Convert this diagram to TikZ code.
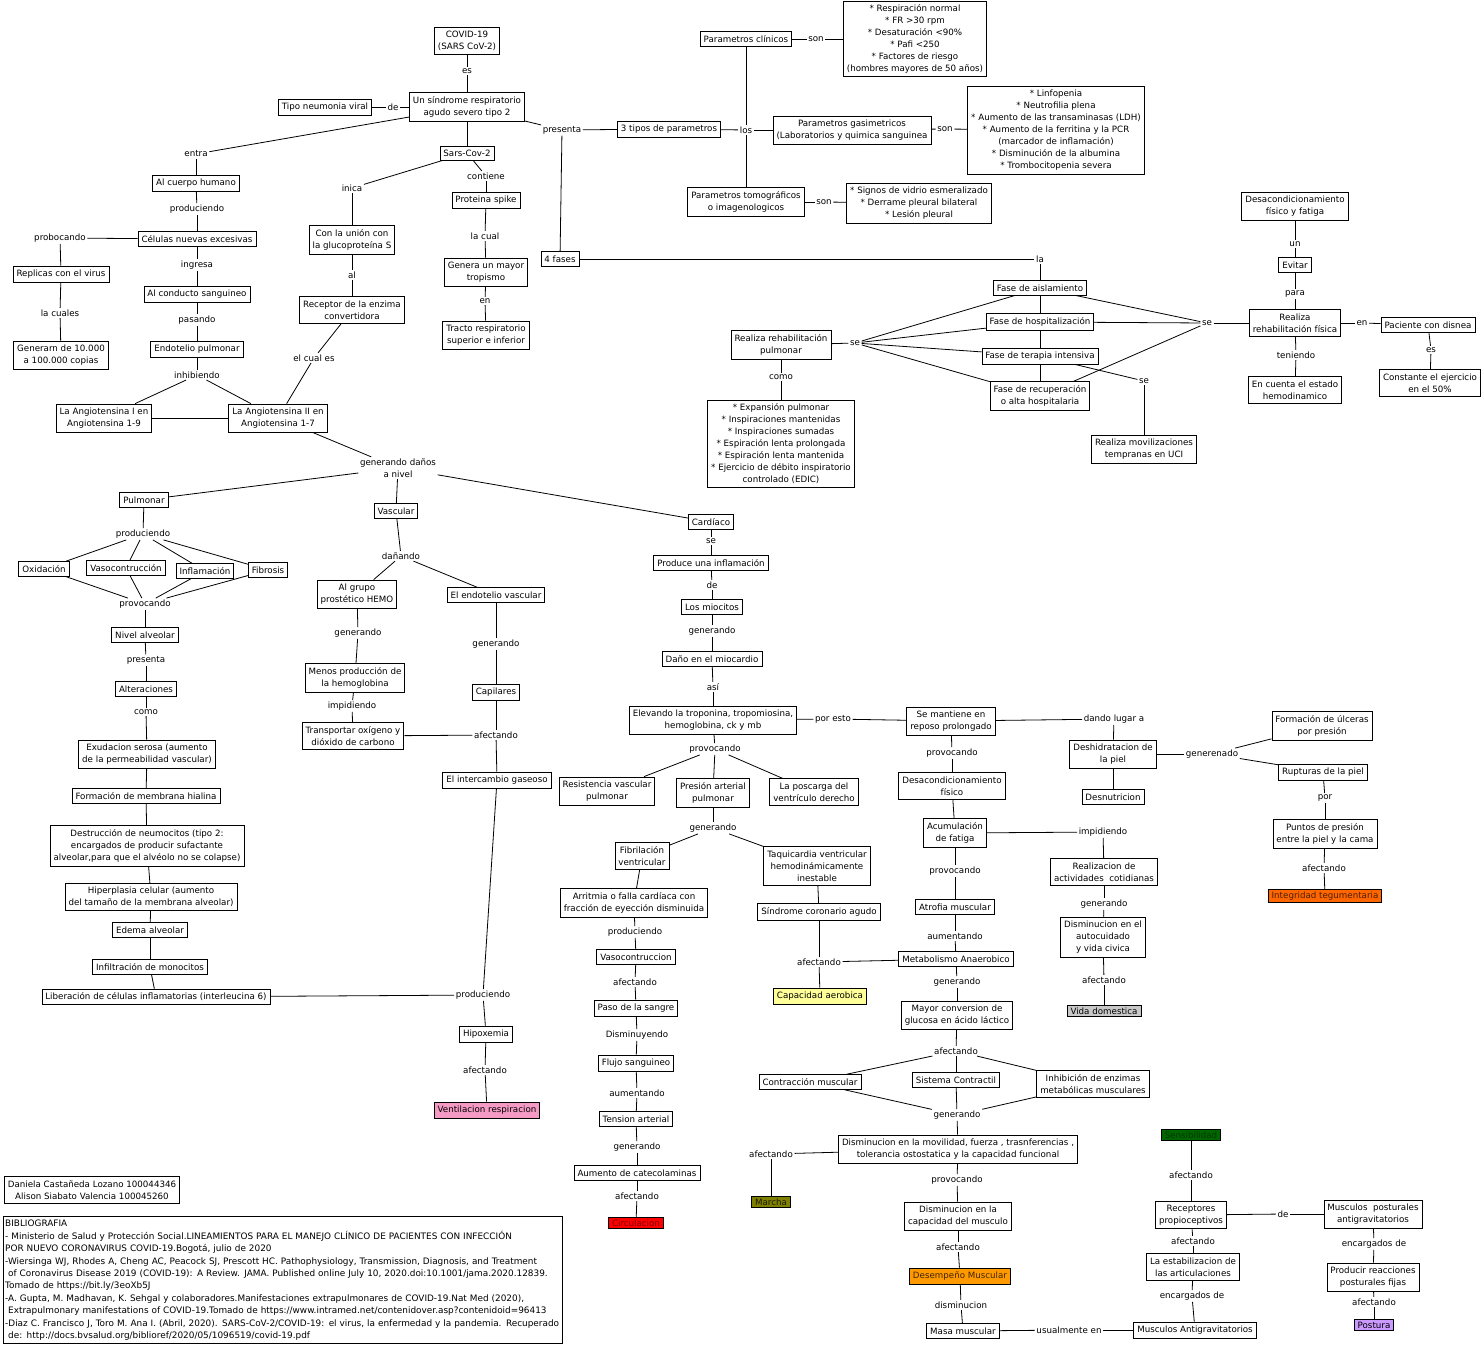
\documentclass[tikz,border=0pt]{standalone}
\usepackage{fontspec}
\setmainfont{DejaVu Sans}
\newcommand\mapfont{\fontsize{8.7}{12}\selectfont}
\definecolor{cpink}{HTML}{F59AC4}
\definecolor{cred}{HTML}{FF0000}
\definecolor{cdred}{HTML}{7A0000}
\definecolor{colive}{HTML}{808000}
\definecolor{cyel}{HTML}{FFFF99}
\definecolor{corange}{HTML}{FF9900}
\definecolor{corred}{HTML}{FF6600}
\definecolor{cgrey}{HTML}{C8C8C8}
\definecolor{cgreen}{HTML}{006600}
\definecolor{cviolet}{HTML}{CC99FF}
\begin{document}
\begin{tikzpicture}[x=1pt,y=-1pt,
  box/.style={draw, line width=0.8pt, fill=white, align=center, inner xsep=3.5pt, inner ysep=3.8pt, font=\mapfont},
  lab/.style={inner sep=1.5pt, align=center, font=\mapfont},
  edge/.style={line width=0.8pt}]
\useasboundingbox (0,0) rectangle (1484,1345);

% ---- top
\node[box] (covid) at (467,41) {COVID-19\\(SARS CoV-2)};
\node[lab] (es1) at (467,71) {es};
\node[box] (sindrome) at (467,107) {Un síndrome respiratorio\\agudo severo tipo 2};
\node[box] (tipo) at (325,107) {Tipo neumonia viral};
\node[lab] (de1) at (393,107) {de};
\node[lab] (presenta) at (562,130) {presenta};
\node[box] (tres) at (669,129) {3 tipos de parametros};
\node[lab] (los) at (746,130) {los};
\node[box] (clinicos) at (746,39) {Parametros clínicos};
\node[lab] (son1) at (816,39) {son};
\node[box, inner ysep=3pt] (clinlist) at (915,39) {* Respiración normal\\* FR >30 rpm\\* Desaturación <90\%\\* Pafi <250\\* Factores de riesgo\\(hombres mayores de 50 años)};
\node[box] (gasi) at (852,130) {Parametros gasimetricos\\(Laboratorios y quimica sanguinea};
\node[lab] (son2) at (945,129) {son};
\node[box] (gaslist) at (1056,130) {* Linfopenia\\* Neutrofilia plena\\* Aumento de las transaminasas (LDH)\\* Aumento de la ferritina y la PCR\\(marcador de inflamación)\\* Disminución de la albumina\\* Trombocitopenia severa};
\node[box] (tomo) at (746,202) {Parametros tomográficos\\o imagenologicos};
\node[lab] (son3) at (824,202) {son};
\node[box] (tomolist) at (919,203) {* Signos de vidrio esmeralizado\\* Derrame pleural bilateral\\* Lesión pleural};
\node[box] (sars) at (467,153) {Sars-Cov-2};
\node[lab] (inica) at (352,188) {inica};
\node[lab] (contiene) at (486,176) {contiene};
\node[box] (proteina) at (486,200) {Proteina spike};
\node[lab] (lacual) at (485,236) {la cual};
\node[box] (genera) at (486,272) {Genera un mayor\\tropismo};
\node[lab] (en1) at (485,301) {en};
\node[box] (tracto) at (486,335) {Tracto respiratorio\\superior e inferior};
\node[box] (cuatro) at (560,259) {4 fases};
\node[box] (union) at (352,240) {Con la unión con\\la glucoproteína S};
\node[lab] (al) at (352,275) {al};
\node[box] (receptor) at (352,310) {Receptor de la enzima\\convertidora};
\node[lab] (elcual) at (314,358) {el cual es};
% ---- left
\node[lab] (entra) at (196,154) {entra};
\node[box] (cuerpo) at (196,183) {Al cuerpo humano};
\node[lab] (prod1) at (197,209) {produciendo};
\node[box] (celulas) at (197,239) {Células nuevas excesivas};
\node[lab] (probocando) at (60,238) {probocando};
\node[box] (replicas) at (61,274) {Replicas con el virus};
\node[lab] (lascuales) at (60,313) {la cuales};
\node[box] (generarn) at (61,355) {Generarn de 10.000\\a 100.000 copias};
\node[lab] (ingresa) at (197,265) {ingresa};
\node[box] (conducto) at (197,294) {Al conducto sanguineo};
\node[lab] (pasando) at (197,320) {pasando};
\node[box] (endotelio) at (197,349) {Endotelio pulmonar};
\node[lab] (inhibiendo) at (197,375) {inhibiendo};
\node[box] (ang1) at (104,418) {La Angiotensina I en\\Angiotensina 1-9};
\node[box] (ang2) at (278,418) {La Angiotensina II en\\Angiotensina 1-7};
\node[lab] (gendanos) at (398,468) {generando daños\\a nivel};
% ---- pulmonar
\node[box] (pulmonar) at (144,500) {Pulmonar};
\node[lab] (prod2) at (143,534) {produciendo};
\node[box] (oxidacion) at (44,569) {Oxidación};
\node[box] (vasoc) at (126,568) {Vasocontrucción};
\node[box] (inflam) at (205,571) {Inflamación};
\node[box] (fibrosis) at (268,570) {Fibrosis};
\node[lab] (provoc1) at (145,604) {provocando};
\node[box] (nivel) at (145,635) {Nivel alveolar};
\node[lab] (presenta2) at (146,660) {presenta};
\node[box] (alteraciones) at (146,689) {Alteraciones};
\node[lab] (como1) at (146,712) {como};
\node[box] (exudacion) at (147,754) {Exudacion serosa (aumento\\de la permeabilidad vascular)};
\node[box] (formacion) at (146,796) {Formación de membrana hialina};
\node[box] (destruccion) at (147,846) {Destrucción de neumocitos (tipo 2:\\encargados de producir sufactante\\alveolar,para que el alvéolo no se colapse)};
\node[box] (hiperplasia) at (151,897) {Hiperplasia celular (aumento\\del tamaño de la membrana alveolar)};
\node[box] (edema) at (150,930) {Edema alveolar};
\node[box] (infiltracion) at (150,967) {Infiltración de monocitos};
\node[box] (liberacion) at (156,997) {Liberación de células inflamatorias (interleucina 6)};
\node[lab] (prod3) at (483,995) {produciendo};
% ---- vascular
\node[box] (vascular) at (396,511) {Vascular};
\node[lab] (danando) at (401,556) {dañando};
\node[box] (hemo) at (357,594) {Al grupo\\prostético HEMO};
\node[lab] (gen2) at (358,633) {generando};
\node[box] (menos) at (355,678) {Menos producción de\\la hemoglobina};
\node[lab] (impid) at (352,706) {impidiendo};
\node[box] (transportar) at (353,736) {Transportar oxígeno y\\dióxido de carbono};
\node[box] (endvasc) at (496,595) {El endotelio vascular};
\node[lab] (gen3) at (496,644) {generando};
\node[box] (capilares) at (496,692) {Capilares};
\node[lab] (afec1) at (496,735) {afectando};
\node[box] (intercambio) at (497,780) {El intercambio gaseoso};
\node[box] (hipoxemia) at (486,1034) {Hipoxemia};
\node[lab] (afec2) at (485,1070) {afectando};
\node[box, fill=cpink] (ventilacion) at (487,1110) {Ventilacion respiracion};
% ---- cardiaco
\node[box] (cardiaco) at (711,522) {Cardíaco};
\node[lab] (se1) at (711,541) {se};
\node[box] (produce) at (711,563) {Produce una inflamación};
\node[lab] (de2) at (712,585) {de};
\node[box] (miocitos) at (712,607) {Los miocitos};
\node[lab] (gen4) at (712,631) {generando};
\node[box] (dano) at (712,659) {Daño en el miocardio};
\node[lab] (asi) at (713,687) {así};
\node[box] (elevando) at (713,720) {Elevando la troponina, tropomiosina,\\hemoglobina, ck y mb};
\node[lab] (porEsto) at (833,719) {por esto};
\node[lab] (provoc2) at (715,749) {provocando};
\node[box] (resistencia) at (607,791) {Resistencia vascular\\pulmonar};
\node[box] (presion) at (713,793) {Presión arterial\\pulmonar};
\node[box] (poscarga) at (814,792) {La poscarga del\\ventrículo derecho};
\node[lab] (gen5) at (713,828) {generando};
\node[box] (fibrilacion) at (642,856) {Fibrilación\\ventricular};
\node[box] (taquicardia) at (817,866) {Taquicardia ventricular\\hemodinámicamente\\inestable};
\node[box] (arritmia) at (634,903) {Arritmia o falla cardíaca con\\fracción de eyección disminuida};
\node[lab] (prod4) at (635,932) {produciendo};
\node[box] (vasoc2) at (636,957) {Vasocontruccion};
\node[lab] (afec3) at (635,982) {afectando};
\node[box] (paso) at (636,1008) {Paso de la sangre};
\node[lab] (disminuyendo) at (637,1035) {Disminuyendo};
\node[box] (flujo) at (636,1063) {Flujo sanguineo};
\node[lab] (aument) at (637,1093) {aumentando};
\node[box] (tension) at (636,1119) {Tension arterial};
\node[lab] (gen6) at (637,1147) {generando};
\node[box] (catecol) at (637,1173) {Aumento de catecolaminas};
\node[lab] (afec4) at (637,1196) {afectando};
\node[box, fill=cred, text=cdred, inner ysep=2.5pt] (circulacion) at (636,1223) {Circulacion};
\node[box] (sindcor) at (819,912) {Síndrome coronario agudo};
\node[lab] (afec5) at (819,962) {afectando};
\node[box, fill=cyel] (capacidad) at (820,996) {Capacidad aerobica};
% ---- reposo chain
\node[box] (reposo) at (951,721) {Se mantiene en\\reposo prolongado};
\node[lab] (dandolugar) at (1114,719) {dando lugar a};
\node[lab] (provoc3) at (952,753) {provocando};
\node[box] (desacond) at (952,786) {Desacondicionamiento\\físico};
\node[box] (acumulacion) at (955,833) {Acumulación\\de fatiga};
\node[lab] (impid2) at (1103,832) {impidiendo};
\node[lab] (provoc4) at (955,871) {provocando};
\node[box] (atrofia) at (955,907) {Atrofia muscular};
\node[lab] (aument2) at (955,936) {aumentando};
\node[box] (metabolismo) at (956,959) {Metabolismo Anaerobico};
\node[lab] (gen7) at (957,982) {generando};
\node[box] (mayor) at (957,1015) {Mayor conversion de\\glucosa en ácido láctico};
\node[lab] (afec6) at (956,1051) {afectando};
\node[box] (contraccion) at (810,1082) {Contracción muscular};
\node[box] (sistema) at (956,1080) {Sistema Contractil};
\node[box] (inhibicion) at (1093,1084) {Inhibición de enzimas\\metabólicas musculares};
\node[lab] (gen8) at (957,1115) {generando};
\node[box] (disminucion) at (958,1149) {Disminucion en la movilidad, fuerza , trasnferencias ,\\tolerancia ostostatica y la capacidad funcional};
\node[lab] (afec7) at (771,1154) {afectando};
\node[box, fill=colive, text=black!80!colive, inner ysep=2.5pt] (marcha) at (771,1202) {Marcha};
\node[lab] (provoc5) at (957,1180) {provocando};
\node[box] (dismcap) at (958,1216) {Disminucion en la\\capacidad del musculo};
\node[lab] (afec8) at (958,1247) {afectando};
\node[box, fill=corange, text=black!75!corange] (desempeno) at (960,1276) {Desempeño Muscular};
\node[lab] (dismin2) at (961,1305) {disminucion};
\node[box] (masa) at (963,1331) {Masa muscular};
\node[lab] (usualmente) at (1069,1330) {usualmente en};
\node[box] (musculosAnti) at (1195,1330) {Musculos Antigravitatorios};
% ---- skin
\node[box] (deshidratacion) at (1113,754) {Deshidratacion de\\la piel};
\node[box] (desnutricion) at (1113,797) {Desnutricion};
\node[lab] (generenado) at (1212,754) {generenado};
\node[box] (ulceras) at (1322,726) {Formación de úlceras\\por presión};
\node[box] (rupturas) at (1323,772) {Rupturas de la piel};
\node[lab] (por) at (1325,798) {por};
\node[box] (puntos) at (1325,834) {Puntos de presión\\entre la piel y la cama};
\node[lab] (afec9) at (1324,868) {afectando};
\node[box, fill=corred, text=black!70!corred, inner ysep=2.5pt] (integridad) at (1325,896) {Integridad tegumentaria};
\node[box] (realizacion) at (1104,872) {Realizacion de\\actividades\ \ cotidianas};
\node[lab] (gen9) at (1104,904) {generando};
\node[box] (dismauto) at (1103,937) {Disminucion en el\\autocuidado\\y vida civica};
\node[lab] (afec10) at (1104,980) {afectando};
\node[box, fill=cgrey, inner ysep=2.5pt] (vida) at (1104,1011) {Vida domestica};
% ---- postura
\node[box, fill=cgreen, text=black!45!cgreen, inner ysep=2.5pt] (sensibilidad) at (1191,1135) {Sensibilidad};
\node[lab] (afec11) at (1191,1175) {afectando};
\node[box] (receptores) at (1191,1215) {Receptores\\propioceptivos};
\node[lab] (de3) at (1283,1214) {de};
\node[box] (musculosPost) at (1373,1214) {Musculos\ \ posturales\\antigravitatorios};
\node[lab] (afec12) at (1193,1241) {afectando};
\node[box] (estabilizacion) at (1193,1267) {La estabilizacion de\\las articulaciones};
\node[lab] (encarg1) at (1192,1296) {encargados de};
\node[lab] (encarg2) at (1374,1244) {encargados de};
\node[box] (producir) at (1373,1277) {Producir reacciones\\posturales fijas};
\node[lab] (afec13) at (1374,1302) {afectando};
\node[box, fill=cviolet, inner ysep=2.5pt] (postura) at (1374,1325) {Postura};
% ---- fases
\node[lab] (la) at (1040,259) {la};
\node[box] (aislamiento) at (1040,288) {Fase de aislamiento};
\node[box] (hospitalizacion) at (1040,322) {Fase de hospitalización};
\node[box] (terapia) at (1040,356) {Fase de terapia intensiva};
\node[box] (recuperacion) at (1040,396) {Fase de recuperación\\o alta hospitalaria};
\node[lab] (se2) at (855,343) {se};
\node[box] (rehabPulm) at (781,345) {Realiza rehabilitación\\pulmonar};
\node[lab] (como2) at (781,377) {como};
\node[box] (rehablist) at (781,444) {* Expansión pulmonar\\* Inspiraciones mantenidas\\* Inspiraciones sumadas\\* Espiración lenta prolongada\\* Espiración lenta mantenida\\* Ejercicio de débito inspiratorio\\controlado (EDIC)};
\node[lab] (se3) at (1207,323) {se};
\node[box] (rehabFis) at (1295,323) {Realiza\\rehabilitación física};
\node[lab] (para) at (1295,294) {para};
\node[box] (evitar) at (1295,265) {Evitar};
\node[lab] (un) at (1295,244) {un};
\node[box] (desacFat) at (1295,206) {Desacondicionamiento\\físico y fatiga};
\node[lab] (en2) at (1362,323) {en};
\node[box] (disnea) at (1428,325) {Paciente con disnea};
\node[lab] (es2) at (1431,350) {es};
\node[box] (constante) at (1430,383) {Constante el ejercicio\\en el 50\%};
\node[lab] (teniendo) at (1296,355) {teniendo};
\node[box] (encuenta) at (1295,390) {En cuenta el estado\\hemodinamico};
\node[lab] (se4) at (1144,381) {se};
\node[box] (moviliz) at (1144,449) {Realiza movilizaciones\\tempranas en UCI};
% ---- authors and bibliography
\node[box] (autores) at (92,1190) {Daniela Castañeda Lozano 100044346\\Alison Siabato Valencia 100045260};
\draw[line width=0.8pt] (3,1216) rectangle (562,1343);
\node[anchor=north west, align=left, font=\fontsize{8.9}{12.4}\selectfont, inner sep=0pt, text width=560pt] (biblio) at (5,1220) {BIBLIOGRAFIA\\
- Ministerio de Salud y Protección Social.LINEAMIENTOS PARA EL MANEJO CLÍNICO DE PACIENTES CON INFECCIÓN\\
POR NUEVO CORONAVIRUS COVID-19.Bogotá, julio de 2020\\
-Wiersinga WJ, Rhodes A, Cheng AC, Peacock SJ, Prescott HC. Pathophysiology, Transmission, Diagnosis, and Treatment\\
\ of Coronavirus Disease 2019 (COVID-19): A Review. JAMA. Published online July 10, 2020.doi:10.1001/jama.2020.12839.\\
Tomado de https://bit.ly/3eoXb5J\\
-A. Gupta, M. Madhavan, K. Sehgal y colaboradores.Manifestaciones extrapulmonares de COVID-19.Nat Med (2020),\\
\ Extrapulmonary manifestations of COVID-19.Tomado de https://www.intramed.net/contenidover.asp?contenidoid=96413\\
-Diaz C. Francisco J, Toro M. Ana I. (Abril, 2020). SARS-CoV-2/COVID-19: el virus, la enfermedad y la pandemia. Recuperado\\
\ de: http://docs.bvsalud.org/biblioref/2020/05/1096519/covid-19.pdf};

% ---- connectors
\foreach \a/\b in {covid/es1, es1/sindrome, tipo/de1, de1/sindrome, sindrome/presenta, presenta/tres, presenta/cuatro,
  tres/los, los/clinicos, los/gasi, los/tomo, clinicos/son1, son1/clinlist, gasi/son2, son2/gaslist, tomo/son3, son3/tomolist,
  sindrome/sars, sindrome/entra, entra/cuerpo, sars/inica, inica/union, sars/contiene, contiene/proteina,
  proteina/lacual, lacual/genera, genera/en1, en1/tracto, union/al, al/receptor, receptor/elcual, elcual/ang2,
  cuerpo/prod1, prod1/celulas, celulas/probocando, probocando/replicas, replicas/lascuales, lascuales/generarn,
  celulas/ingresa, ingresa/conducto, conducto/pasando, pasando/endotelio, endotelio/inhibiendo,
  inhibiendo/ang1, inhibiendo/ang2, ang1/ang2, ang2/gendanos, gendanos/pulmonar, gendanos/vascular, gendanos/cardiaco,
  pulmonar/prod2, prod2/oxidacion, prod2/vasoc, prod2/inflam, prod2/fibrosis,
  oxidacion/provoc1, vasoc/provoc1, inflam/provoc1, fibrosis/provoc1, provoc1/nivel, nivel/presenta2, presenta2/alteraciones,
  alteraciones/como1, como1/exudacion, exudacion/formacion, formacion/destruccion, destruccion/hiperplasia,
  hiperplasia/edema, edema/infiltracion, infiltracion/liberacion, liberacion/prod3, intercambio/prod3, prod3/hipoxemia,
  hipoxemia/afec2, afec2/ventilacion,
  vascular/danando, danando/hemo, danando/endvasc, hemo/gen2, gen2/menos, menos/impid, impid/transportar, transportar/afec1,
  endvasc/gen3, gen3/capilares, capilares/afec1, afec1/intercambio,
  cardiaco/se1, se1/produce, produce/de2, de2/miocitos, miocitos/gen4, gen4/dano, dano/asi, asi/elevando, elevando/provoc2,
  elevando/porEsto, porEsto/reposo, provoc2/resistencia, provoc2/presion, provoc2/poscarga, presion/gen5,
  gen5/fibrilacion, gen5/taquicardia, fibrilacion/arritmia, arritmia/prod4, prod4/vasoc2, vasoc2/afec3, afec3/paso,
  paso/disminuyendo, disminuyendo/flujo, flujo/aument, aument/tension, tension/gen6, gen6/catecol, catecol/afec4, afec4/circulacion,
  taquicardia/sindcor, sindcor/afec5, afec5/capacidad, metabolismo/afec5,
  reposo/provoc3, provoc3/desacond, desacond/acumulacion, acumulacion/provoc4, provoc4/atrofia, atrofia/aument2,
  aument2/metabolismo, metabolismo/gen7, gen7/mayor, mayor/afec6, afec6/contraccion, afec6/sistema, afec6/inhibicion,
  contraccion/gen8, sistema/gen8, inhibicion/gen8, gen8/disminucion, disminucion/afec7, afec7/marcha,
  disminucion/provoc5, provoc5/dismcap, dismcap/afec8, afec8/desempeno, desempeno/dismin2, dismin2/masa,
  masa/usualmente, usualmente/musculosAnti,
  reposo/dandolugar, dandolugar/deshidratacion, deshidratacion/desnutricion, deshidratacion/generenado,
  generenado/ulceras, generenado/rupturas, rupturas/por, por/puntos, puntos/afec9, afec9/integridad,
  acumulacion/impid2, impid2/realizacion, realizacion/gen9, gen9/dismauto, dismauto/afec10, afec10/vida,
  sensibilidad/afec11, afec11/receptores, receptores/de3, de3/musculosPost, receptores/afec12, afec12/estabilizacion,
  estabilizacion/encarg1, encarg1/musculosAnti, musculosPost/encarg2, encarg2/producir, producir/afec13, afec13/postura,
  cuatro/la, la/aislamiento, aislamiento/hospitalizacion, hospitalizacion/terapia, terapia/recuperacion,
  rehabPulm/se2, se2/aislamiento, se2/hospitalizacion, se2/terapia, se2/recuperacion, rehabPulm/como2, como2/rehablist,
  aislamiento/se3, hospitalizacion/se3, recuperacion/se3, se3/rehabFis, terapia/se4, se4/moviliz,
  rehabFis/para, para/evitar, evitar/un, un/desacFat, rehabFis/en2, en2/disnea, disnea/es2, es2/constante,
  rehabFis/teniendo, teniendo/encuenta}
  \draw[edge] (\a) -- (\b);
\end{tikzpicture}
\end{document}
